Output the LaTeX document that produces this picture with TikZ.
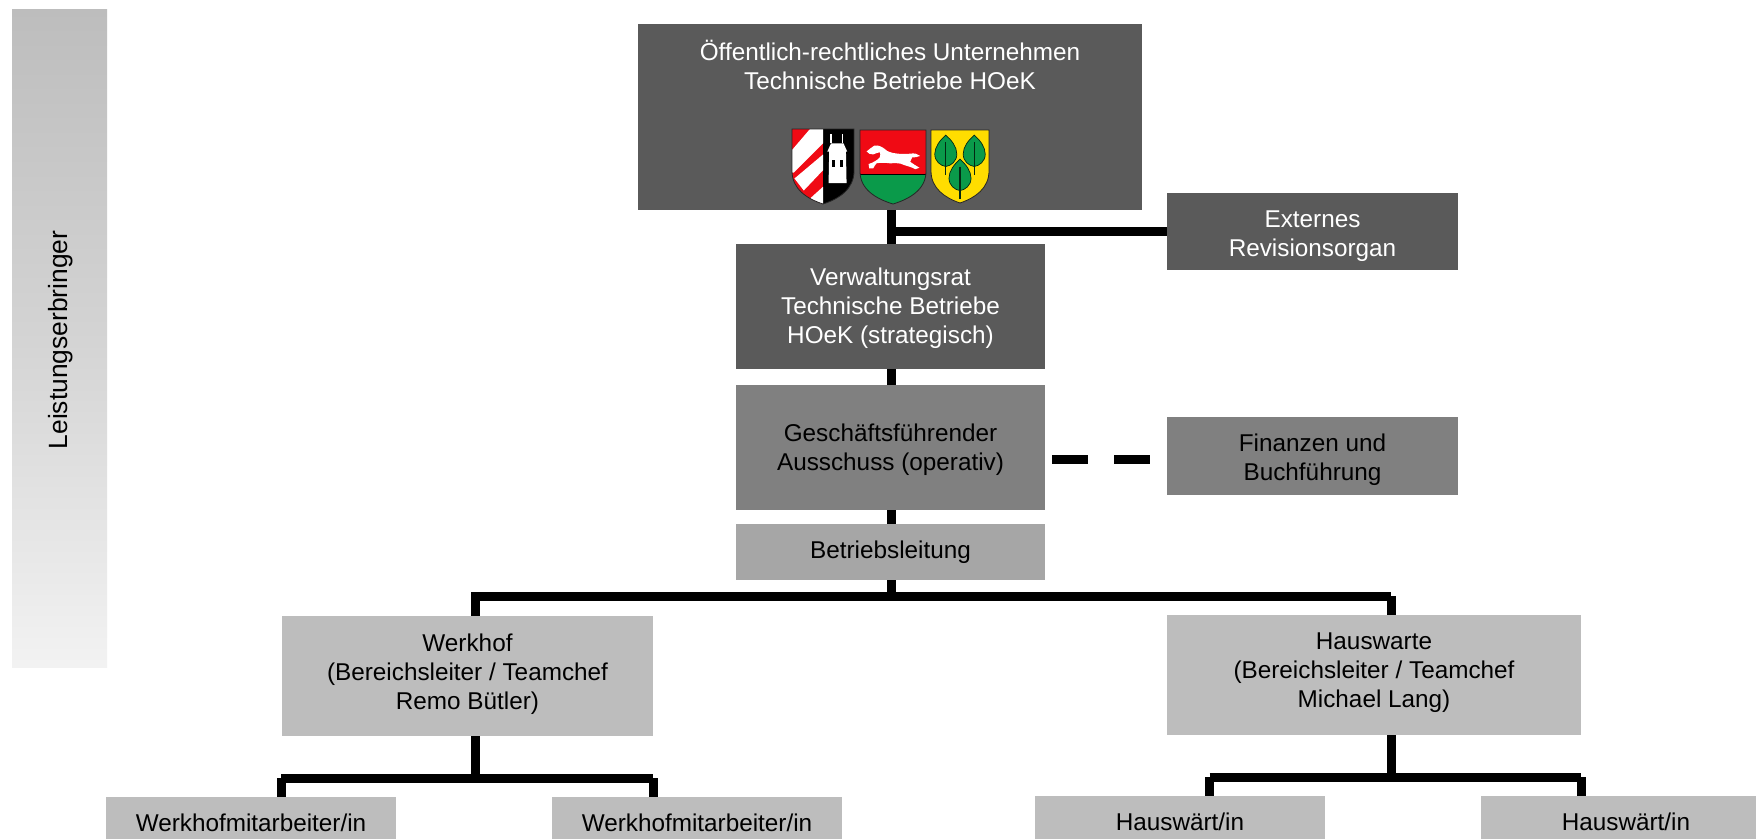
\documentclass[tikz,border=0pt]{standalone}
\usepackage{fontspec}
\setmainfont{Liberation Sans}
\definecolor{dark}{HTML}{5A5A5A}
\definecolor{midg}{HTML}{808080}
\definecolor{betr}{HTML}{A6A6A6}
\definecolor{lite}{HTML}{BDBDBD}
\definecolor{shgreen}{HTML}{0A9A4A}
\definecolor{shred}{HTML}{F00A14}
\definecolor{shyel}{HTML}{FFDD00}
\newcommand{\shieldpath}{(0,0) -- (1,0) -- (1,.56) .. controls (1,.8) and (.76,.93) .. (.5,1) .. controls (.24,.93) and (0,.8) .. (0,.56) -- cycle}
\newcommand{\leafat}[2]{%
  \begin{scope}[shift={(#1,#2)}]
    \fill[shgreen,draw=black!75!shgreen,line width=.7pt] (0,-.22) .. controls (.1,-.15) and (.19,-.06) .. (.19,.04) .. controls (.19,.14) and (.09,.2) .. (0,.21) .. controls (-.09,.2) and (-.19,.14) .. (-.19,.04) .. controls (-.19,-.06) and (-.1,-.15) .. (0,-.22) -- cycle;
    \draw[black!75!shgreen,line width=1.1pt] (0,-.12) -- (0,.32);
  \end{scope}}
\tikzset{
  x=1pt,y=-1pt,
  box/.style={rectangle,draw=none,inner sep=0pt,align=center,font=\fontsize{24.3}{29}\selectfont},
  dk/.style={box,fill=dark,text=white},
  md/.style={box,fill=midg,text=black},
  bt/.style={box,fill=betr,text=black},
  lt/.style={box,fill=lite,text=black},
  conn/.style={line width=9pt,black,line join=miter,line cap=butt},
  dashconn/.style={line width=9pt,black,dash pattern=on 36pt off 26pt},
  txt/.style={inner sep=0pt,align=center,font=\fontsize{24.3}{29}\selectfont},
  shield/.style={draw=black!85,line width=.8pt}
}
\begin{document}
\begin{tikzpicture}
\useasboundingbox (0,0) rectangle (1756,838);
\clip (0,0) rectangle (1756,838);
\fill[white] (0,0) rectangle (1756,838);

% side bar
\node[rectangle,inner sep=0pt,minimum width=95pt,minimum height=658pt,top color=lite,bottom color=black!5,middle color=black!17,shading angle=0] (bar) at (59.5,338) {};
\node[txt,rotate=90,text=black,font=\fontsize{26.4}{30}\selectfont] (barlabel) at (60.5,340) {Leistungserbringer};

% boxes
\node[dk,minimum width=504pt,minimum height=186pt] (top) at (890,117) {};
\node[txt,text=white] (toplabel) at (890,64.5) {Öffentlich-rechtliches Unternehmen\\Technische Betriebe HOeK};
\node[dk,minimum width=291pt,minimum height=77pt] (ext) at (1312.5,231.5) {};
\node[txt,text=white] (extlabel) at (1312.5,236) {Externes\\Revisionsorgan};
\node[dk,minimum width=309pt,minimum height=125pt] (verw) at (890.5,306.5) {};
\node[txt,text=white] (verwlabel) at (890.5,308.7) {Verwaltungsrat\\Technische Betriebe\\HOeK (strategisch)};
\node[md,minimum width=309pt,minimum height=125pt] (ga) at (890.5,447.5) {};
\node[txt] (galabel) at (890.5,449.7) {Geschäftsführender\\Ausschuss (operativ)};
\node[md,minimum width=291pt,minimum height=78pt] (fin) at (1312.5,456) {};
\node[txt] (finlabel) at (1312.5,459.4) {Finanzen und\\Buchführung};
\node[bt,minimum width=309pt,minimum height=56pt] (bl) at (890.5,552) {Betriebsleitung};
\node[lt,minimum width=371pt,minimum height=120pt] (wh) at (467.5,676) {};
\node[txt] (whlabel) at (467.5,673.8) {Werkhof\\(Bereichsleiter / Teamchef\\Remo Bütler)};
\node[lt,minimum width=414pt,minimum height=120pt] (hw) at (1374,675) {};
\node[txt] (hwlabel) at (1374,672.8) {Hauswarte\\(Bereichsleiter / Teamchef\\Michael Lang)};
\node[lt,minimum width=290pt,minimum height=52pt] (wm1) at (251,823) {Werkhofmitarbeiter/in};
\node[lt,minimum width=290pt,minimum height=52pt] (wm2) at (697,823) {Werkhofmitarbeiter/in};
\node[lt,minimum width=290pt,minimum height=52pt] (hm1) at (1180,822) {Hauswärt/in};
\node[lt,minimum width=290pt,minimum height=52pt] (hm2) at (1626,822) {Hauswärt/in};

% bus coordinates
\coordinate (mainbus) at (891,596);
\coordinate (busl) at (475,596);
\coordinate (busr) at (1391,596);
\coordinate (busstart) at (471,596);
\coordinate (wbus) at (475,778);
\coordinate (wl) at (281,778);
\coordinate (wr) at (653,778);
\coordinate (hbus) at (1391,777);
\coordinate (hl) at (1209.5,777);
\coordinate (hr) at (1581,777);
\coordinate (dashstart) at (1052,459);
\coordinate (dashend) at (1150,459);

% connectors
\draw[conn] (891,0 |- top.south) -- (891,0 |- verw.north);
\draw[conn] (891,0 |- ext.west) -- (ext.west);
\draw[conn] (891,0 |- verw.south) -- (891,0 |- ga.north);
\draw[conn] (891,0 |- ga.south) -- (891,0 |- bl.north);
\draw[conn] (891,0 |- bl.south) -- (mainbus);
\draw[conn] (busstart) -- (busr);
\draw[conn] (busl) -- (busl |- wh.north);
\draw[conn] (busr) -- (busr |- hw.north);
\draw[conn] (wbus |- wh.south) -- (wbus);
\draw[conn] (wl) -- (wr);
\draw[conn] (wl) -- (wl |- wm1.north);
\draw[conn] (wr) -- (wr |- wm2.north);
\draw[conn] (hbus |- hw.south) -- (hbus);
\draw[conn] (hl) -- (hr);
\draw[conn] (hl) -- (hl |- hm1.north);
\draw[conn] (hr) -- (hr |- hm2.north);
\draw[dashconn] (dashstart) -- (dashend);

% crest 1
\begin{scope}[shift={(792,129)},x=62pt,y=-75pt]
  \begin{scope}
    \clip \shieldpath;
    \fill[shred] (0,0) rectangle (.5,1);
    \fill[black] (.5,0) rectangle (1,1);
    \fill[white] (.29,0) -- (.5,0) -- (.5,.19) -- (.03,.58) -- (0,.58) -- (0,.28) -- cycle;
    \fill[white] (.5,.34) -- (.5,.55) -- (.19,.82) -- (.04,.66) -- cycle;
    \fill[white] (.5,.77) -- (.5,1) -- (.29,1) -- (.26,.95) -- cycle;
    \fill[white] (.59,.72) -- (.6,.3) -- (.57,.3) -- (.63,.19) -- (.83,.19) -- (.89,.3) -- (.87,.3) -- (.88,.72) -- cycle;
    \fill[black] (.65,.41) rectangle (.69,.5);
    \fill[black] (.78,.41) rectangle (.82,.5);
    \draw[white,line width=1.2pt] (.63,.19) -- (.63,.07);
    \draw[white,line width=1.2pt] (.82,.19) -- (.82,.07);
  \end{scope}
  \draw[shield] \shieldpath;
\end{scope}

% crest 2
\begin{scope}[shift={(860,130)},x=66pt,y=-74pt]
  \begin{scope}
    \clip \shieldpath;
    \fill[shred] (0,0) rectangle (1,.6);
    \fill[shgreen] (0,.6) rectangle (1,1);
    \draw[black,line width=.6pt] (0,.6) -- (1,.6);
    \fill[white] (.1,.29) .. controls (.14,.26) and (.18,.23) .. (.22,.21)
      .. controls (.28,.2) and (.34,.23) .. (.38,.26)
      .. controls (.44,.32) and (.62,.33) .. (.76,.32)
      .. controls (.82,.31) and (.87,.32) .. (.91,.35)
      .. controls (.87,.37) and (.83,.37) .. (.79,.37)
      .. controls (.78,.4) and (.77,.41) .. (.76,.43)
      .. controls (.8,.46) and (.85,.48) .. (.9,.51)
      -- (.84,.53) .. controls (.78,.5) and (.72,.49) .. (.66,.47)
      .. controls (.6,.44) and (.52,.45) .. (.45,.45)
      .. controls (.38,.44) and (.3,.44) .. (.25,.45)
      .. controls (.22,.47) and (.22,.5) .. (.2,.52)
      -- (.14,.52) -- (.13,.46) .. controls (.2,.44) and (.26,.41) .. (.3,.37)
      .. controls (.31,.35) and (.31,.32) .. (.3,.3)
      .. controls (.26,.31) and (.22,.32) .. (.2,.33)
      .. controls (.16,.33) and (.12,.32) .. (.1,.29) -- cycle;
  \end{scope}
  \draw[shield] \shieldpath;
\end{scope}

% crest 3
\begin{scope}[shift={(931,130)},x=58pt,y=-73pt]
  \begin{scope}
    \clip \shieldpath;
    \fill[shyel] (0,0) rectangle (1,1);
    \leafat{.255}{.29}
    \leafat{.745}{.29}
    \leafat{.5}{.62}
  \end{scope}
  \draw[shield] \shieldpath;
\end{scope}
\end{tikzpicture}
\end{document}
